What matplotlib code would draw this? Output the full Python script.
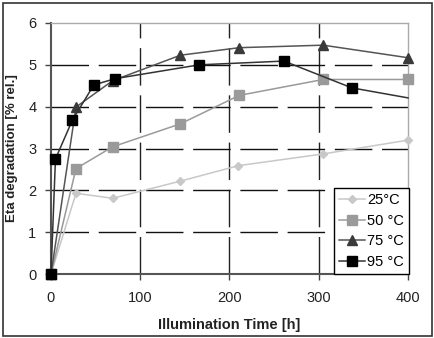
import numpy as np
import matplotlib.pyplot as plt
from matplotlib.patches import Rectangle

plt.rcParams['font.family'] = ['Liberation Sans', 'DejaVu Sans']

# Data
t_25 = [0, 28, 69, 145, 210, 305, 400]
eta_25 = [0, 1.93, 1.81, 2.22, 2.59, 2.87, 3.2]

t_50 = [0, 28, 69, 145, 211, 305, 400]
eta_50 = [0, 2.52, 3.04, 3.59, 4.27, 4.65, 4.65]

t_75 = [0, 28, 69, 145, 211, 305, 400]
eta_75 = [0, 3.99, 4.62, 5.23, 5.41, 5.47, 5.17]

t_95 = [0, 5, 24, 48, 72, 166, 261, 337, 400]
eta_95 = [0, 2.75, 3.68, 4.52, 4.67, 5.0, 5.09, 4.45, 4.21]

labels = ['25\u00b0C', '50 \u00b0C', '75 \u00b0C', '95 \u00b0C']

fig = plt.figure(figsize=(4.35, 3.38), dpi=100)
ax = fig.add_axes([51/435, 64/338, 357/435, 251/338])

# Outer frame
fig.patches.append(Rectangle((3/435, 2/338), 429/435, 333/338, transform=fig.transFigure,
                             fill=False, edgecolor='#333333', linewidth=1.2))

# Grid
dash = (0, (27, 7))
for x in [100, 200, 300]:
    ax.axvline(x, color='#222222', linewidth=1, linestyle=dash, zorder=1)
for y in [1, 2, 3, 4, 5]:
    ax.axhline(y, color='#111111', linewidth=1, linestyle=dash, zorder=1)

ax.plot(t_25, eta_25, color='#c8c8c8', marker='D', markersize=4.5, linewidth=1.1,
        label=labels[0], zorder=3, clip_on=False)
ax.plot(t_50, eta_50, color='#9a9a9a', marker='s', markersize=6.5, linewidth=1.1,
        label=labels[1], zorder=3, clip_on=False)
ax.plot(t_75, eta_75, color='#555555', marker='^', markersize=6.5, linewidth=1.1,
        markerfacecolor='#3a3a3a', markeredgecolor='#3a3a3a', label=labels[2], zorder=4,
        clip_on=False)
ax.plot(t_95, eta_95, color='#333333', marker='s', markersize=7, linewidth=1.1,
        markerfacecolor='black', markeredgecolor='black', markevery=list(range(len(t_95) - 1)),
        label=labels[3], zorder=5, clip_on=False)

ax.set_xlim(0, 400)
ax.set_ylim(0, 6)
ax.set_xticks([0, 100, 200, 300, 400])
ax.set_yticks([0, 1, 2, 3, 4, 5, 6])
ax.tick_params(direction='out', length=4.5, width=1, color='#444444', labelsize=10.5,
               labelcolor='#222222')
ax.tick_params(axis='x', pad=8)
ax.tick_params(axis='y', pad=6)

for s in ['left', 'bottom']:
    ax.spines[s].set_color('#555555')
    ax.spines[s].set_linewidth(1.5)
for s in ['top', 'right']:
    ax.spines[s].set_color('#aaaaaa')
    ax.spines[s].set_linewidth(1)

ax.set_xlabel('Illumination Time [h]', fontsize=10.5, fontweight='bold', color='#222222', labelpad=9)
ax.set_ylabel('Eta degradation [% rel.]', fontsize=9.5, fontweight='bold', color='#222222', labelpad=7)

leg = ax.legend(loc='lower right', bbox_to_anchor=(1.003, 0.0), fontsize=10.5, frameon=True,
                fancybox=False, edgecolor='black', framealpha=1, borderpad=0.35,
                handlelength=1.8, handletextpad=0.15, labelspacing=0.45, borderaxespad=0)
leg.get_frame().set_linewidth(1)
leg.set_zorder(10)

fig.savefig('out.png', dpi=100)
